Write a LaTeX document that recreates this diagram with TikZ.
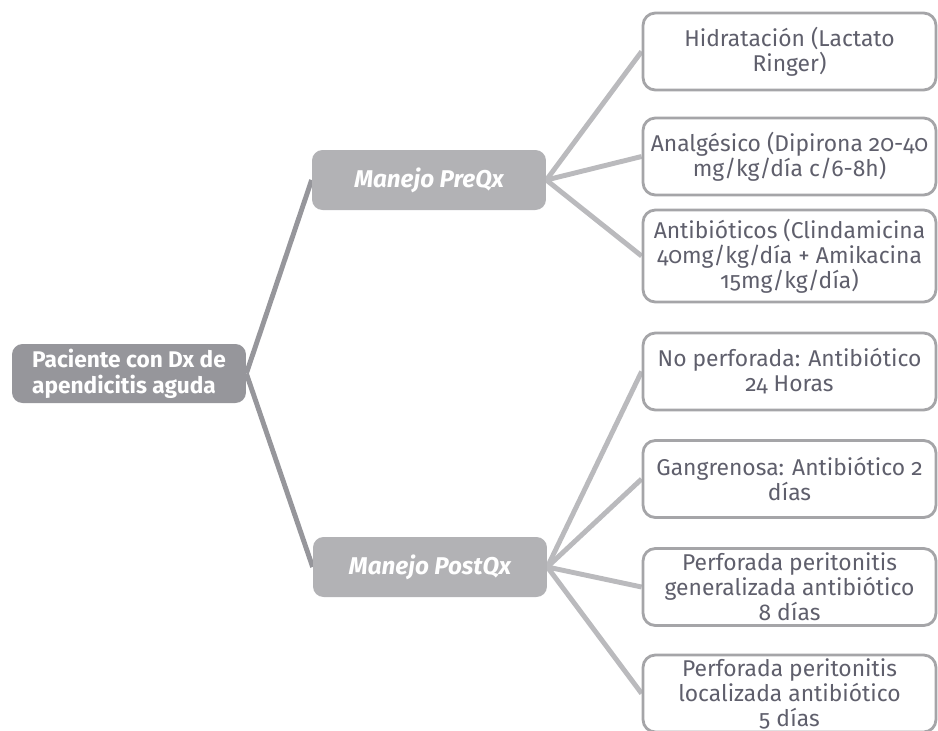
\documentclass[tikz,border=0pt]{standalone}
\usepackage{fontspec}
\setmainfont{Fira Sans}[Numbers=OldStyle]
\usepackage{tikz}
\usetikzlibrary{positioning, backgrounds}
\definecolor{rootgray}{RGB}{150,150,155}
\definecolor{branchgray}{RGB}{178,178,181}
\definecolor{leafline}{RGB}{165,165,168}
\definecolor{connline}{RGB}{186,186,189}
\definecolor{leaftext}{RGB}{95,95,108}

\begin{document}
\begin{tikzpicture}[
  x=0.02cm, y=-0.02cm,
  rootbox/.style={rectangle, rounded corners=6pt, fill=rootgray, text=white, minimum width=4.68cm, minimum height=1.18cm, font=\fontsize{12.9}{14.8}\selectfont\bfseries, align=left, inner sep=2pt},
  branchbox/.style={rectangle, rounded corners=6pt, fill=branchgray, text=white, minimum width=4.68cm, minimum height=1.2cm, font=\fontsize{13.8}{14.6}\selectfont\bfseries\itshape},
  leafbox/.style={rectangle, draw=leafline, line width=1.6pt, rounded corners=7pt, fill=white, text=leaftext, minimum width=5.86cm, minimum height=#1, font=\fontsize{13}{14.2}\selectfont, align=center, inner sep=1pt},
  leafbox/.default=1.54cm,
  conn/.style={connline, line width=2.8pt},
  rootconn/.style={rootgray, line width=2.8pt},
]
  \useasboundingbox (0,0) rectangle (938,731);

  % root and branches
  \node[rootbox] (root) at (129,373.5) {Paciente con Dx de\\apendicitis aguda};
  \node[branchbox] (pre) at (429,180) {Manejo PreQx};
  \node[branchbox] (post) at (430,567) {Manejo PostQx};

  % PreQx leaves
  \node[leafbox] (hid) at (789.5,51.5) {Hidratación (Lactato\\Ringer)};
  \node[leafbox] (ana) at (789.5,156.5) {Analgésico (Dipirona 20-40\\mg/kg/día c/6-8h)};
  \node[leafbox=1.84cm] (atb) at (789.5,256) {Antibióticos (Clindamicina\\40mg/kg/día + Amikacina\\15mg/kg/día)};

  % PostQx leaves
  \node[leafbox] (nop) at (789.5,371.5) {No perforada: Antibiótico\\24 Horas};
  \node[leafbox] (gan) at (789.5,479) {Gangrenosa: Antibiótico 2\\días};
  \node[leafbox] (pgen) at (789.5,587) {Perforada peritonitis\\generalizada antibiótico\\8 días};
  \node[leafbox] (ploc) at (789.5,693.5) {Perforada peritonitis\\localizada antibiótico\\5 días};

  \begin{scope}[on background layer]
    \draw[rootconn] (root.east) -- (pre.west);
    \draw[rootconn] (root.east) -- (post.west);
    \draw[conn] (pre.east) -- (hid.west);
    \draw[conn] (pre.east) -- (ana.west);
    \draw[conn] (pre.east) -- (atb.west);
    \draw[conn] (post.east) -- (nop.west);
    \draw[conn] (post.east) -- (gan.west);
    \draw[conn] (post.east) -- (pgen.west);
    \draw[conn] (post.east) -- (ploc.west);
  \end{scope}
\end{tikzpicture}
\end{document}
